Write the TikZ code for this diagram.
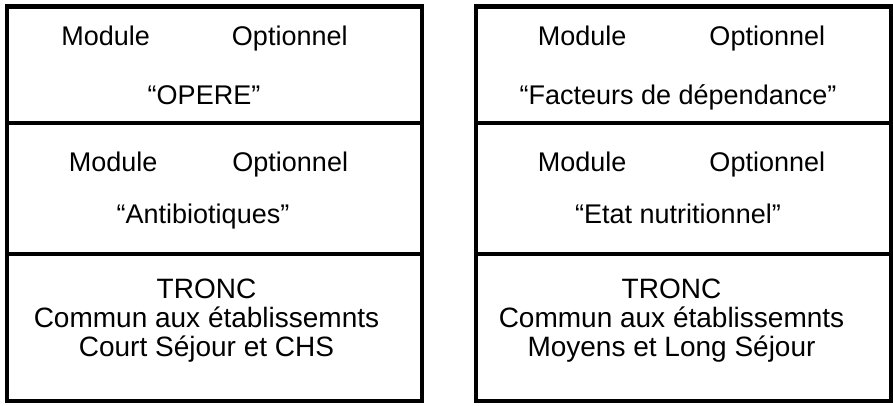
\documentclass[tikz,border=0pt]{standalone}
\usepackage{fontspec}
\setmainfont{Liberation Sans}
\usetikzlibrary{positioning}

\begin{document}
\begin{tikzpicture}[
box/.style={
	draw, rectangle, line width=2.25pt,
	minimum width=207.5pt, inner sep=0pt, outer sep=0pt
},
txt/.style={
	anchor=base, inner sep=0pt,
	font=\fontsize{13.5}{13.5}\selectfont
},
big/.style={txt, font=\fontsize{14}{14}\selectfont}
]
\useasboundingbox (0,0) rectangle (446.5pt,-203pt);
% left column
\node[box, minimum height=58.25pt, anchor=north west] (opere) at (3.5pt,-3.25pt) {};
\node[box, minimum height=65.5pt, below=0pt of opere] (antibio) {};
\node[box, minimum height=73.5pt, below=0pt of antibio] (troncCS) {};
% right column
\node[box, minimum height=58.25pt, right=27pt of opere] (facteurs) {};
\node[box, minimum height=65.5pt, below=0pt of facteurs] (nutri) {};
\node[box, minimum height=73.5pt, below=0pt of nutri] (troncLS) {};
% texts
\node[txt] (m1) at ([xshift=-5pt,yshift=-19.75pt]opere.north) {Module\hspace{41pt}Optionnel};
\node[txt] (q1) at ([xshift=-0.25pt,yshift=-29.5pt]m1.base) {“OPERE”};
\node[txt] (m2) at ([xshift=-3pt,yshift=-24.5pt]antibio.north) {Module\hspace{37.5pt}Optionnel};
\node[txt] (q2) at ([xshift=-2.75pt,yshift=-25.5pt]m2.base) {“Antibiotiques”};
\node[txt] (m3) at ([xshift=-1pt,yshift=-19.75pt]facteurs.north) {Module\hspace{41.5pt}Optionnel};
\node[txt] (q3) at ([xshift=-1.75pt,yshift=-29.5pt]m3.base) {“Facteurs de dépendance”};
\node[txt] (m4) at ([xshift=-1pt,yshift=-24.5pt]nutri.north) {Module\hspace{41.5pt}Optionnel};
\node[txt] (q4) at ([xshift=-1.75pt,yshift=-25.5pt]m4.base) {“Etat nutritionnel”};
\node[big] (t1) at ([xshift=-4pt,yshift=-22pt]troncCS.north) {TRONC};
\node[big] (c1) at ([yshift=-14.5pt]t1.base) {Commun aux établissemnts};
\node[big] (s1) at ([yshift=-14.5pt]c1.base) {Court Séjour et CHS};
\node[big] (t2) at ([xshift=-6pt,yshift=-22pt]troncLS.north) {TRONC};
\node[big] (c2) at ([yshift=-14.5pt]t2.base) {Commun aux établissemnts};
\node[big] (s2) at ([yshift=-14.5pt]c2.base) {Moyens et Long Séjour};
\end{tikzpicture}
\end{document}
